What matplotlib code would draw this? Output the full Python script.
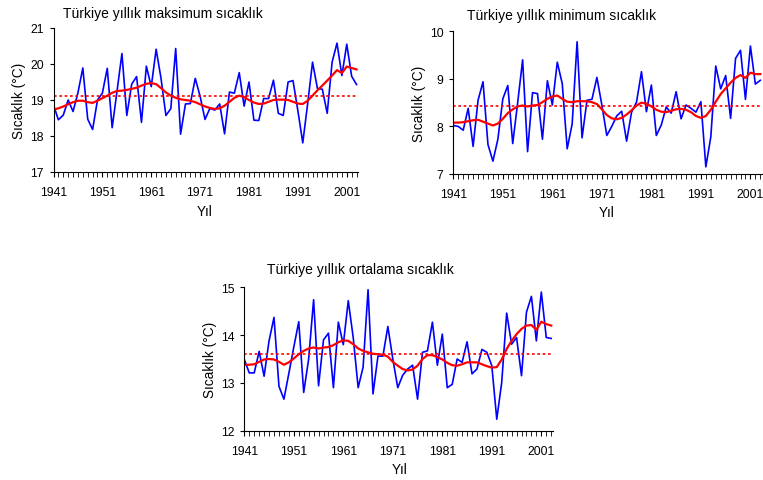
import matplotlib.pyplot as plt
import numpy as np

plt.rcParams['font.family'] = ['Liberation Sans', 'DejaVu Sans']

years = np.arange(1941, 2004)

# yearly maximum temperature (blue) and its smoothed trend (red)
max_temp = [18.86, 18.45, 18.58, 19.00, 18.68, 19.20, 19.89, 18.47, 18.18, 19.00,
            19.19, 19.88, 18.23, 19.25, 20.29, 18.57, 19.44, 19.65, 18.38, 19.94,
            19.37, 20.41, 19.60, 18.57, 18.76, 20.43, 18.05, 18.89, 18.90, 19.60,
            19.10, 18.46, 18.77, 18.72, 18.89, 18.06, 19.22, 19.19, 19.76, 18.83,
            19.50, 18.44, 18.43, 19.04, 19.04, 19.55, 18.63, 18.57, 19.50, 19.54,
            18.70, 17.81, 18.90, 20.05, 19.32, 19.30, 18.63, 20.05, 20.58, 19.68,
            20.55, 19.66, 19.43]
max_trend = [18.73, 18.77, 18.82, 18.88, 18.94, 18.98, 18.98, 18.94, 18.92, 18.98,
             19.05, 19.12, 19.20, 19.25, 19.26, 19.28, 19.31, 19.34, 19.40, 19.45,
             19.47, 19.44, 19.33, 19.21, 19.12, 19.06, 19.02, 19.00, 18.98, 18.94,
             18.88, 18.82, 18.78, 18.75, 18.77, 18.84, 18.95, 19.06, 19.12, 19.08,
             19.00, 18.93, 18.89, 18.90, 18.95, 19.00, 19.01, 19.01, 19.00, 18.95,
             18.90, 18.89, 18.98, 19.12, 19.27, 19.40, 19.54, 19.68, 19.83, 19.75,
             19.93, 19.89, 19.85]
max_mean = 19.12

# yearly minimum temperature
min_temp = [8.02, 8.00, 7.92, 8.38, 7.58, 8.55, 8.94, 7.62, 7.27, 7.73,
            8.58, 8.86, 7.64, 8.50, 9.40, 7.47, 8.71, 8.69, 7.73, 8.96,
            8.45, 9.35, 8.90, 7.53, 8.05, 9.78, 7.76, 8.55, 8.57, 9.03,
            8.45, 7.81, 8.00, 8.22, 8.32, 7.69, 8.30, 8.51, 9.15, 8.31,
            8.87, 7.81, 8.03, 8.41, 8.28, 8.73, 8.16, 8.45, 8.38, 8.30,
            8.52, 7.15, 7.78, 9.27, 8.79, 9.07, 8.17, 9.43, 9.60, 8.57,
            9.69, 8.89, 8.97]
min_trend = [8.08, 8.08, 8.09, 8.11, 8.13, 8.14, 8.10, 8.06, 8.02, 8.06,
             8.16, 8.28, 8.36, 8.42, 8.44, 8.42, 8.44, 8.45, 8.51, 8.58,
             8.63, 8.65, 8.58, 8.52, 8.51, 8.53, 8.53, 8.53, 8.51, 8.47,
             8.36, 8.24, 8.17, 8.15, 8.18, 8.25, 8.34, 8.44, 8.50, 8.48,
             8.42, 8.35, 8.31, 8.30, 8.33, 8.36, 8.37, 8.35, 8.30, 8.22,
             8.18, 8.22, 8.35, 8.52, 8.68, 8.80, 8.92, 9.02, 9.08, 9.02,
             9.13, 9.10, 9.10]
min_mean = 8.42

# yearly mean temperature
avg_temp = [13.49, 13.21, 13.21, 13.66, 13.14, 13.88, 14.37, 12.93, 12.66, 13.20,
            13.75, 14.28, 12.80, 13.50, 14.74, 12.94, 13.90, 14.04, 12.90, 14.27,
            13.80, 14.72, 13.95, 12.90, 13.33, 14.95, 12.77, 13.56, 13.56, 14.18,
            13.50, 12.90, 13.16, 13.29, 13.37, 12.66, 13.64, 13.67, 14.27, 13.37,
            14.02, 12.90, 12.97, 13.50, 13.43, 13.86, 13.19, 13.29, 13.70, 13.64,
            13.36, 12.24, 13.01, 14.46, 13.81, 13.95, 13.15, 14.48, 14.81, 13.88,
            14.90, 13.95, 13.93]
avg_trend = [13.38, 13.38, 13.39, 13.44, 13.49, 13.50, 13.49, 13.44, 13.38, 13.43,
             13.51, 13.60, 13.67, 13.72, 13.74, 13.72, 13.74, 13.75, 13.79, 13.85,
             13.89, 13.88, 13.81, 13.72, 13.67, 13.64, 13.61, 13.60, 13.59, 13.55,
             13.44, 13.36, 13.29, 13.26, 13.28, 13.36, 13.50, 13.58, 13.58, 13.54,
             13.49, 13.42, 13.37, 13.36, 13.39, 13.43, 13.43, 13.43, 13.39, 13.35,
             13.32, 13.33, 13.49, 13.71, 13.88, 14.02, 14.13, 14.20, 14.21, 14.11,
             14.28, 14.23, 14.20]
avg_mean = 13.6

fig = plt.figure(figsize=(7.63, 4.81), dpi=100)


def panel(rect, temp, trend, mean, ylim, title, title_xy, xlabel_xy):
    ax = fig.add_axes(rect)
    ax.plot(years, temp, color='#0000ff', lw=1.2)
    ax.plot(years, trend, color='#ff0000', lw=1.6)
    ax.axhline(mean, color='#ff0000', lw=1.2, linestyle=(0, (1.6, 1.6)))
    ax.set_xlim(1941, 2003.3)
    ax.set_ylim(*ylim)
    ax.set_yticks(np.arange(ylim[0], ylim[1] + 1))
    ax.set_xticks(np.arange(1941, 2002, 10))
    ax.set_xticks(years, minor=True)
    ax.tick_params(axis='x', which='major', length=3.5, labelsize=8.8, pad=6.5)
    ax.tick_params(axis='x', which='minor', length=3.5)
    ax.tick_params(axis='y', length=3, labelsize=8.8, pad=4)
    ax.spines['top'].set_visible(False)
    ax.spines['right'].set_visible(False)
    ax.set_ylabel('Sıcaklık (°C)', fontsize=9.8, labelpad=3)
    fig.text(title_xy[0] / 763, 1 - title_xy[1] / 481, title, fontsize=10,
             ha='left', va='center')
    fig.text(xlabel_xy[0] / 763, 1 - xlabel_xy[1] / 481, 'Yıl', fontsize=9.8,
             ha='center', va='center')
    return ax


panel([53.5 / 763, 1 - 173 / 481, 304.5 / 763, 144 / 481], max_temp, max_trend, max_mean,
      (17, 21), 'Türkiye yıllık maksimum sıcaklık', (63, 14), (205, 212))
panel([453.3 / 763, 1 - 175 / 481, 308.5 / 763, 142.7 / 481], min_temp, min_trend, min_mean,
      (7, 10), 'Türkiye yıllık minimum sıcaklık', (467, 16), (607, 213))
panel([244.3 / 763, 1 - 431.7 / 481, 308.4 / 763, 143.4 / 481], avg_temp, avg_trend, avg_mean,
      (12, 15), 'Türkiye yıllık ortalama sıcaklık', (267, 270), (400, 470))

fig.savefig('out.png', dpi=100)
